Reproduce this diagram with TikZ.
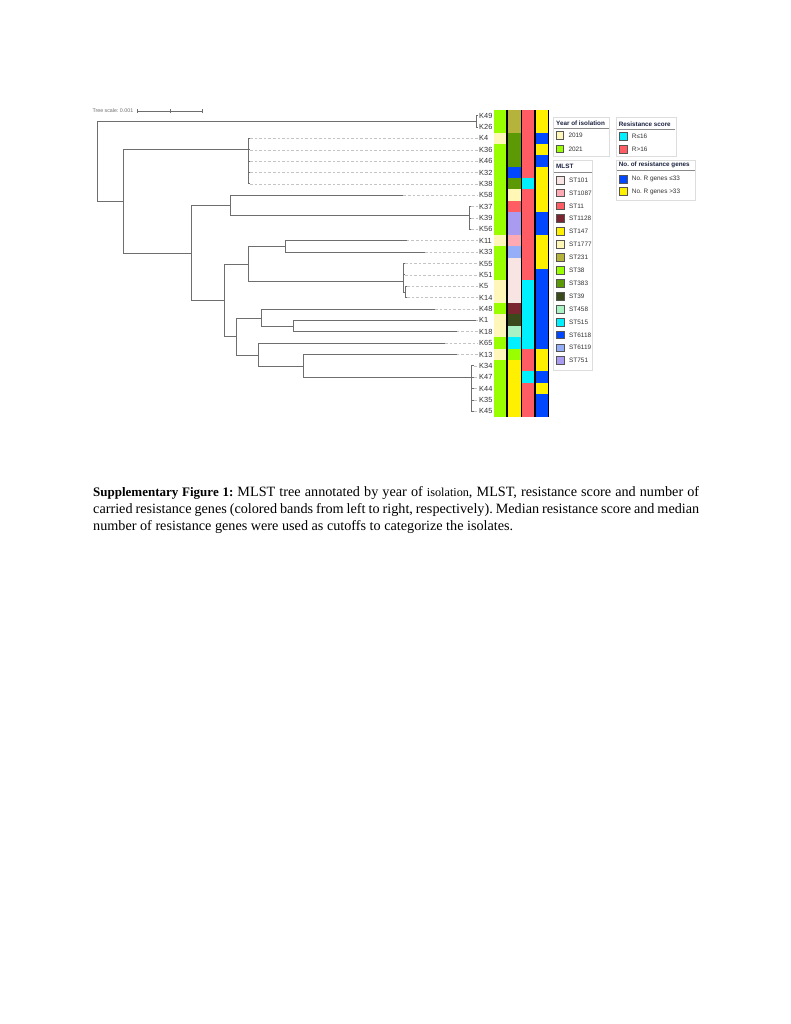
\documentclass[tikz,border=0pt]{standalone}
\usepackage{fontspec}
\setmainfont{Liberation Serif}
\newfontfamily\arialf{Liberation Sans}
\frenchspacing
\definecolor{treegray}{HTML}{6E6E6E}
\definecolor{dashgray}{HTML}{C4C4C4}
\definecolor{labgray}{HTML}{333333}
\definecolor{boxgray}{HTML}{DDDDDD}
\definecolor{swgray}{HTML}{555555}
\definecolor{titlecol}{HTML}{1C2340}
\definecolor{ulgray}{HTML}{8A8A8A}
% year
\definecolor{yP}{HTML}{FFF7BA}
\definecolor{yG}{HTML}{99FF00}
% MLST
\definecolor{m101}{HTML}{F9E4E4}
\definecolor{m1087}{HTML}{FFA9B3}
\definecolor{m11}{HTML}{FF5C64}
\definecolor{m1128}{HTML}{7B2530}
\definecolor{m147}{HTML}{FFF000}
\definecolor{m1777}{HTML}{FFF7B5}
\definecolor{m231}{HTML}{B5B33C}
\definecolor{m38}{HTML}{99FF00}
\definecolor{m383}{HTML}{5B9A04}
\definecolor{m39}{HTML}{3A4A1A}
\definecolor{m458}{HTML}{A8F2C4}
\definecolor{m515}{HTML}{00F0FF}
\definecolor{m6118}{HTML}{0047FF}
\definecolor{m6119}{HTML}{94AEF7}
\definecolor{m751}{HTML}{A99CF0}
% resistance score
\definecolor{rC}{HTML}{00F0FF}
\definecolor{rR}{HTML}{FF5C64}
% number of genes
\definecolor{gB}{HTML}{0047FF}
\definecolor{gY}{HTML}{FFF000}
\begin{document}
\begin{tikzpicture}[x=1pt,y=-1pt,
  br/.style={draw=treegray,line width=0.9pt},
  dsh/.style={draw=dashgray,line width=0.6pt,dash pattern=on 2.6pt off 2pt},
  lbl/.style={font=\arialf\fontsize{7.4}{8}\selectfont,text=labgray,inner sep=0pt,anchor=west},
  legbox/.style={draw=boxgray,line width=0.5pt},
  sw/.style={draw=swgray,line width=0.6pt},
  ltitle/.style={font=\arialf\bfseries\fontsize{6.3}{7}\selectfont,text=titlecol,inner sep=0pt,anchor=west},
  litem/.style={font=\arialf\fontsize{6.4}{7}\selectfont,text=labgray,inner sep=0pt,anchor=west},
  uline/.style={draw=ulgray,line width=0.8pt},
  captxt/.style={inner sep=0pt,anchor=base west}]
\useasboundingbox (0,0) rectangle (791,1024);
\fill[white] (0,0) rectangle (791,1024);

% ---------- scale bar ----------
\node[inner sep=0pt,anchor=west,font=\arialf\fontsize{5.3}{6}\selectfont,text=treegray] (scaletxt) at (92.3,111) {Tree scale: 0.001};
\coordinate (sb1) at (137.3,111);
\coordinate (sb2) at (170,111);
\coordinate (sb3) at (202.7,111);
\draw[treegray,line width=0.6pt] (sb1) -- (sb3);
\foreach \s in {sb1,sb2,sb3} \draw[treegray,line width=0.6pt] ([yshift=1.6pt]\s) -- ([yshift=-1.6pt]\s);

% ---------- tree internal nodes ----------
\coordinate (root) at (97.3,161);
\coordinate (n1) at (476.7,121.4);
\coordinate (n2) at (123.3,201);
\coordinate (n3) at (248.3,149.8);
\coordinate (n4) at (191,253.3);
\coordinate (n5) at (230,205.3);
\coordinate (n6) at (224.3,300.3);
\coordinate (n7) at (469.3,215.5);
\coordinate (n8) at (248.3,264);
\coordinate (n9) at (236.7,336.6);
\coordinate (n10) at (285.7,246.5);
\coordinate (n11) at (403.3,281.3);
\coordinate (n12) at (405.5,292);
\coordinate (n13) at (261,318.3);
\coordinate (n14) at (258.3,355.3);
\coordinate (n15) at (293.3,326.3);
\coordinate (n16) at (303.3,366);
\coordinate (n17) at (471.7,377.3);

\foreach \a/\b in {root/n1,root/n2,n2/n3,n2/n4,n4/n5,n4/n6,n5/n7,n6/n8,n6/n9,
  n8/n10,n8/n11,n11/n12,n9/n13,n9/n14,n13/n15,n14/n16,n16/n17}
  \draw[br] (\a) |- (\b);

% ---------- leaves ----------
\foreach \n/\i/\e/\p in {K49/0/478/n1,K26/1/478/n1,K4/2/250/n3,K36/3/250/n3,K46/4/250/n3,
  K32/5/250/n3,K38/6/250/n3,K58/7/403.3/n5,K37/8/471/n7,K39/9/471/n7,K56/10/471/n7,
  K11/11/406.7/n10,K33/12/425/n10,K55/13/405/n11,K51/14/405/n11,K5/15/407/n12,
  K14/16/407/n12,K48/17/435/n13,K1/18/476/n15,K18/19/456.7/n15,K65/20/445/n14,
  K13/21/456.7/n16,K34/22/474/n17,K47/23/474/n17,K44/24/474/n17,K35/25/474/n17,K45/26/474/n17}
{
  \coordinate (e\n) at (\e,{115.7+11.37*\i});
  \node[lbl] (\n) at (479,{115.7+11.37*\i}) {\n};
  \draw[br] (\p) |- (e\n);
  \draw[dsh] (e\n) -- ([xshift=-1pt]\n.west);
}

% ---------- colour bands ----------
\foreach \i/\a/\b/\c/\d in {0/yG/m231/rR/gY,1/yG/m231/rR/gY,2/yP/m383/rR/gB,3/yG/m383/rR/gY,
  4/yG/m383/rR/gB,5/yG/m6118/rR/gY,6/yG/m383/rC/gY,7/yG/m1777/rR/gY,8/yG/m11/rR/gY,
  9/yG/m751/rR/gB,10/yG/m751/rR/gB,11/yP/m1087/rR/gY,12/yG/m6119/rR/gY,13/yG/m101/rR/gY,
  14/yG/m101/rR/gB,15/yP/m101/rC/gB,16/yP/m101/rC/gB,17/yG/m1128/rC/gB,18/yP/m39/rC/gB,
  19/yP/m458/rC/gB,20/yG/m515/rC/gB,21/yP/m38/rR/gY,22/yG/m147/rR/gY,23/yG/m147/rC/gB,
  24/yG/m147/rR/gY,25/yG/m147/rR/gB,26/yG/m147/rR/gB}
{
  \pgfmathsetmacro\yt{110+11.37*\i-0.2}
  \pgfmathsetmacro\yb{110+11.37*(\i+1)+0.2}
  \fill[\a] (494.3,\yt) rectangle (506.6,\yb);
  \fill[\b] (508,\yt) rectangle (521,\yb);
  \fill[\c] (522.1,\yt) rectangle (534.6,\yb);
  \fill[\d] (535.8,\yt) rectangle (547.9,\yb);
}
\fill[black] (506.3,110) rectangle (508.3,417);
\fill[black] (520.8,110) rectangle (522.3,417);
\fill[black] (534.4,110) rectangle (536,417);
\fill[black] (547.7,110) rectangle (549.2,417);

% ---------- legend: year ----------
\draw[legbox] (553.3,117) rectangle (609.3,156);
\node[ltitle] (tyear) at (556,123.3) {Year of isolation};
\draw[uline] (554,128.3) -- (608.5,128.3);
\draw[sw,fill=yP] (556,131.6) rectangle (563.6,139.2);
\node[litem] (l2019) at (568.3,135.4) {2019};
\draw[sw,fill=yG] (556,145) rectangle (563.6,152.6);
\node[litem] (l2021) at (568.3,148.8) {2021};

% ---------- legend: resistance score ----------
\draw[legbox] (616,117.5) rectangle (676,156.7);
\node[ltitle] (trs) at (618.7,124) {Resistance score};
\draw[uline] (617,129) -- (675.2,129);
\draw[sw,fill=rC] (619,132.3) rectangle (627,140);
\node[litem] (lrc) at (631.7,136.1) {R≤16};
\draw[sw,fill=rR] (619,145.5) rectangle (627,153.2);
\node[litem] (lrr) at (631.7,149.3) {R>16};

% ---------- legend: MLST ----------
\draw[legbox] (553.3,160) rectangle (592.7,370);
\node[ltitle] (tmlst) at (556,166.7) {MLST};
\draw[uline] (554,172) -- (592,172);
\foreach \k/\c/\t in {0/m101/ST101,1/m1087/ST1087,2/m11/ST11,3/m1128/ST1128,4/m147/ST147,
  5/m1777/ST1777,6/m231/ST231,7/m38/ST38,8/m383/ST383,9/m39/ST39,10/m458/ST458,
  11/m515/ST515,12/m6118/ST6118,13/m6119/ST6119,14/m751/ST751}
{
  \pgfmathsetmacro\yc{180+12.9*\k}
  \draw[sw,fill=\c] (556,\yc-3.9) rectangle (564,\yc+3.9);
  \node[litem] (lg\t) at (569,\yc) {\t};
}

% ---------- legend: number of genes ----------
\draw[legbox] (616,160) rectangle (695.7,200);
\node[ltitle] (tng) at (618.7,164.6) {No. of resistance genes};
\draw[uline] (617,170) -- (695,170);
\draw[sw,fill=gB] (619,175.2) rectangle (627,183);
\node[litem] (lgb) at (631.7,179.1) {No. R genes ≤33};
\draw[sw,fill=gY] (619,187.6) rectangle (627,195.4);
\node[litem] (lgy) at (631.7,191.5) {No. R genes >33};

% ---------- caption ----------
\node[captxt] (cap1) at (93,496.7) {\fontsize{14.2}{17}\selectfont\makebox[606pt][s]{{\fontsize{13}{17}\selectfont\bfseries Supplementary Figure 1:} MLST tree annotated by year of {\fontsize{12.2}{17}\selectfont isolation}, MLST, resistance score and number of}};
\node[captxt] (cap2) at (93,513.4) {\fontsize{14.2}{17}\selectfont\makebox[606pt][s]{carried resistance genes (colored bands from left to right, respectively). Median resistance score and median}};
\node[captxt] (cap3) at (93,530.1) {\fontsize{14.2}{17}\selectfont number of resistance genes were used as cutoffs to categorize the isolates.};
\end{tikzpicture}
\end{document}
